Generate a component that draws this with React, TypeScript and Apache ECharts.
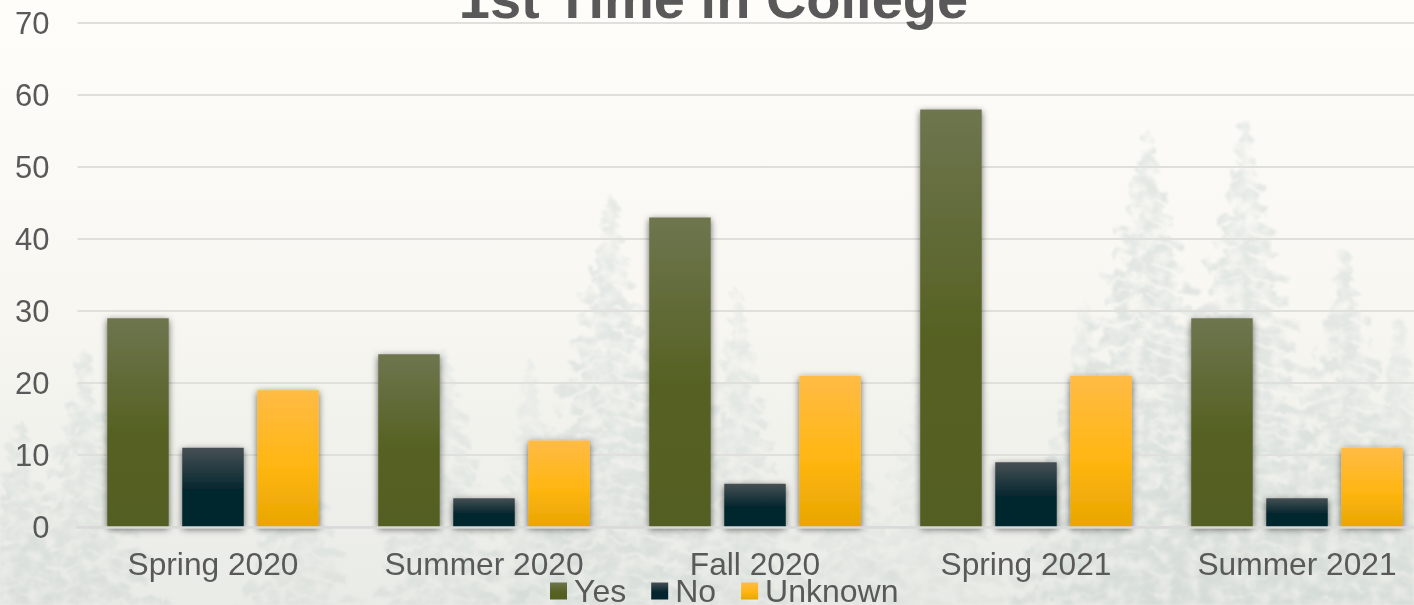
import React, { useEffect, useRef } from "react";
import * as echarts from "echarts";

const categories = ["Spring 2020", "Summer 2020", "Fall 2020", "Spring 2021", "Summer 2021"];
const yesValues = [29, 24, 43, 58, 29];
const noValues = [11, 4, 6, 9, 4];
const unknownValues = [19, 12, 21, 21, 11];
const yTicks = { min: 0, max: 70, interval: 10 };

// Decorative backdrop: [centre x, top y, half width at the ground, opacity]
const backdropTrees = [
  [610, 195, 130, 0.8], [738, 290, 90, 0.65], [445, 350, 95, 0.6], [85, 350, 100, 0.7],
  [1147, 130, 165, 0.9], [1245, 120, 150, 0.85], [1345, 250, 130, 0.8], [1085, 300, 90, 0.5],
  [300, 440, 85, 0.55], [930, 330, 95, 0.4], [20, 420, 75, 0.7], [530, 360, 65, 0.45],
  [850, 420, 75, 0.5], [1400, 320, 85, 0.6],
];
const branchLengths = [1, 0.62, 0.88, 0.5, 0.95, 0.7, 0.8, 0.55];

function treeBranches(cx: number, top: number, half: number): string[] {
  const h = 640 - top;
  const rows = Math.round(h / 11);
  const out: string[] = [];
  for (let i = 0; i < rows; i++) {
    const t = (i + 1) / rows;
    const y = top + h * t;
    const lenL = half * t * branchLengths[i % 8];
    const lenR = half * t * branchLengths[(i + 3) % 8];
    out.push(`M${cx} ${y - 6}L${cx - lenL} ${y + lenL * 0.12}`);
    out.push(`M${cx} ${y - 6}L${cx + lenR} ${y + lenR * 0.12}`);
  }
  return out;
}

function grad(top: string, mid: string, midAt: number, bottom: string) {
  return new echarts.graphic.LinearGradient(0, 0, 0, 1, [
    { offset: 0, color: top },
    { offset: midAt, color: mid },
    { offset: 1, color: bottom },
  ]);
}

function barSeries(name: string, data: number[], color: any) {
  return {
    name,
    type: "bar",
    data,
    barWidth: 61.5,
    barGap: "22%",
    itemStyle: {
      color,
      shadowBlur: 7,
      shadowColor: "rgba(0,0,0,0.6)",
      shadowOffsetX: 0,
      shadowOffsetY: 2,
    },
  };
}

export default function App() {
  const ref = useRef<HTMLDivElement>(null);
  useEffect(() => {
    document.body.style.margin = "0";
    document.body.style.overflow = "hidden";
    const chart = echarts.init(ref.current!, undefined, { renderer: "svg" });
    const font = '"Liberation Sans", Arial, sans-serif';
    chart.setOption({
      animation: false,
      backgroundColor: "transparent",
      title: {
        text: "1st Time in College",
        left: 713.5,
        top: -30,
        padding: 0,
        textAlign: "center",
        textStyle: { fontFamily: font, fontSize: 56, fontWeight: "bold", color: "#595959" },
      },
      legend: {
        left: 550,
        top: 575,
        padding: 0,
        itemWidth: 17,
        itemHeight: 17,
        itemGap: 25,
        icon: "rect",
        textStyle: { fontFamily: font, fontSize: 32, color: "#595959", padding: [0, 0, 0, 2] },
        data: ["Yes", "No", "Unknown"],
      },
      grid: { left: 77.5, right: 17.5, top: 23, bottom: 78, containLabel: false },
      xAxis: {
        type: "category",
        data: categories,
        z: 5,
        axisLine: { show: true, lineStyle: { color: "#d9d9d9", width: 2.5 } },
        axisTick: { show: false },
        axisLabel: { fontFamily: font, fontSize: 31.7, color: "#595959", margin: 21 },
      },
      yAxis: {
        type: "value",
        ...yTicks,
        axisLine: { show: false },
        axisTick: { show: false },
        splitLine: { lineStyle: { color: "#dfdfdc", width: 2 } },
        axisLabel: { fontFamily: font, fontSize: 31, color: "#595959", margin: 28, align: "right" },
      },
      series: [
        barSeries("Yes", yesValues, grad("#6e754f", "#566122", 0.55, "#535e20")),
        barSeries("No", noValues, grad("#465054", "#03252d", 0.55, "#03252d")),
        barSeries("Unknown", unknownValues, grad("#ffbb45", "#ffb612", 0.55, "#e8a600")),
      ],
    });
    return () => chart.dispose();
  }, []);
  return (
    <div style={{ position: "relative", width: 1414, height: 605, overflow: "hidden" }}>
      <svg width={1414} height={605} style={{ position: "absolute", left: 0, top: 0 }}>
        <defs>
          <linearGradient id="sky" x1="0" y1="0" x2="0" y2="1">
            <stop offset="0" stopColor="#fefdfa" />
            <stop offset="0.5" stopColor="#f8f7f2" />
            <stop offset="1" stopColor="#e9ebe6" />
          </linearGradient>
          <linearGradient id="fade" x1="0" y1="0" x2="0" y2="605" gradientUnits="userSpaceOnUse">
            <stop offset="0.15" stopColor="#e4e8e4" />
            <stop offset="0.6" stopColor="#dde3df" />
            <stop offset="1" stopColor="#d4dbd7" />
          </linearGradient>
          <filter id="mottle" filterUnits="userSpaceOnUse" x="0" y="0" width="1414" height="605">
            <feTurbulence type="fractalNoise" baseFrequency="0.07" numOctaves={3} seed={4} result="n" />
            <feDisplacementMap in="SourceGraphic" in2="n" scale={16} result="d" />
            <feColorMatrix
              in="n"
              type="matrix"
              values="0 0 0 0 0  0 0 0 0 0  0 0 0 0 0  2.4 0 0 0 -0.5"
              result="mask"
            />
            <feComposite in="d" in2="mask" operator="in" result="c" />
            <feGaussianBlur in="c" stdDeviation={1} />
          </filter>
        </defs>
        <rect width={1414} height={605} fill="url(#sky)" />
        <g filter="url(#mottle)">
          {backdropTrees.map(([x, top, half, o], i) => (
            <g key={i} opacity={o} stroke="url(#fade)" fill="none">
              <path d={`M${x} ${top}L${x} 620`} strokeWidth={5} />
              {treeBranches(x, top, half).map((d, j) => (
                <path key={j} d={d} strokeWidth={9} />
              ))}
            </g>
          ))}
        </g>
      </svg>
      <div ref={ref} style={{ position: "absolute", left: 0, top: 0, width: 1450, height: 605 }} />
    </div>
  );
}
